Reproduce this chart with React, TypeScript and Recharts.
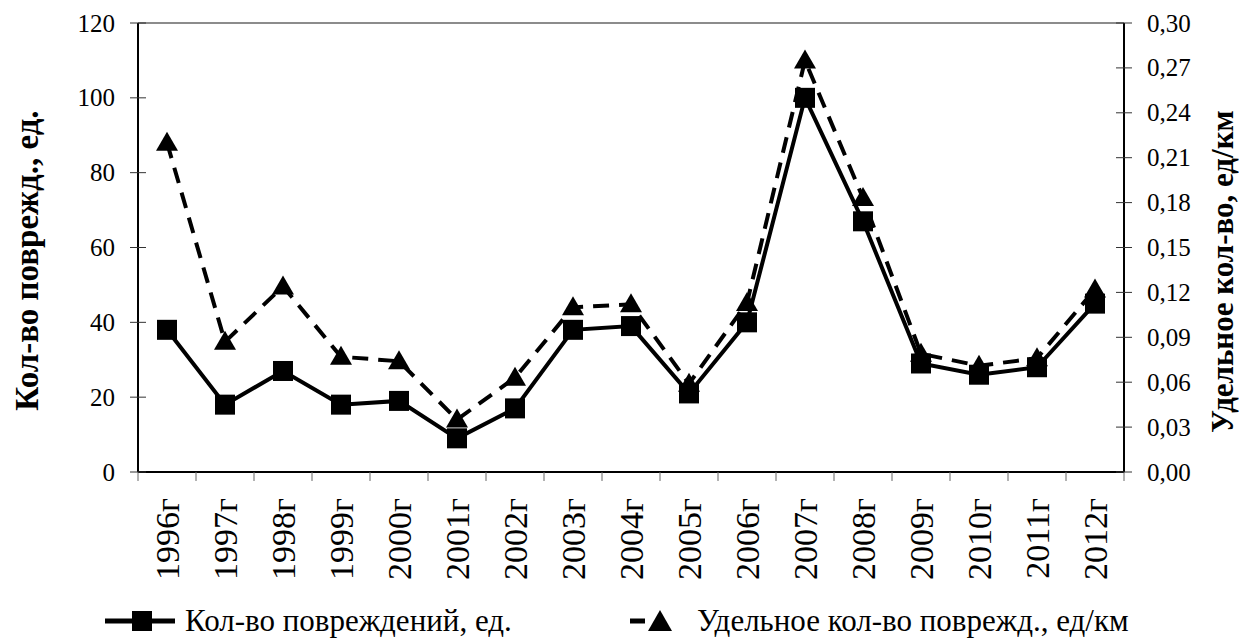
import React from 'react'
import { LineChart, Line, XAxis, YAxis, ReferenceLine, Legend } from 'recharts'

const years = ['1996г', '1997г', '1998г', '1999г', '2000г', '2001г', '2002г', '2003г', '2004г', '2005г', '2006г', '2007г', '2008г', '2009г', '2010г', '2011г', '2012г']
const damages = [38, 18, 27, 18, 19, 9, 17, 38, 39, 21, 40, 100, 67, 29, 26, 28, 45]
const specific = [0.22, 0.087, 0.124, 0.077, 0.074, 0.035, 0.063, 0.11, 0.112, 0.059, 0.113, 0.275, 0.183, 0.079, 0.071, 0.076, 0.122]
const leftTicks = [0, 20, 40, 60, 80, 100, 120]
const rightTicks = [0, 0.03, 0.06, 0.09, 0.12, 0.15, 0.18, 0.21, 0.24, 0.27, 0.3]

const data = years.map((year, i) => ({ year, x: i + 0.5, damages: damages[i], specific: specific[i] }))
// tick marks sit on the band edges, labels in the band centres
const xTicks: number[] = []
years.forEach((_, i) => { xTicks.push(i, i + 0.5) })
xTicks.push(years.length)

const FONT = "'Liberation Serif', 'Times New Roman', serif"
const TICK_GAP = 23 // tickSize + tickMargin on the y axes

const SquareDot = (props: any) => {
  const { cx, cy, index } = props
  if (cx == null || cy == null) return null
  return <rect key={`sq-${index}`} x={cx - 10} y={cy - 10} width={20} height={20} fill="#000" />
}

const TriangleDot = (props: any) => {
  const { cx, cy, index } = props
  if (cx == null || cy == null) return null
  return (
    <polygon
      key={`tr-${index}`}
      points={`${cx},${cy - 11} ${cx + 11},${cy + 8} ${cx - 11},${cy + 8}`}
      fill="#000"
    />
  )
}

const XTick = (props: any) => {
  const { x, y, payload } = props
  const v = payload.value
  if (Number.isInteger(v)) {
    return <line x1={x} x2={x} y1={y} y2={y + 9} stroke="#666" strokeWidth={1} />
  }
  const ty = y + 26
  return (
    <text
      x={x}
      y={ty}
      transform={`rotate(-90, ${x}, ${ty})`}
      textAnchor="end"
      dominantBaseline="central"
      fontFamily={FONT}
      style={{ fontFamily: FONT }}
      fontSize={34}
      fill="#000"
    >
      {years[Math.floor(v)]}
    </text>
  )
}

// y ticks cross the axis line like the original
const LeftTick = (props: any) => {
  const { x, y, payload } = props
  const ax = x + TICK_GAP
  return (
    <g>
      <line x1={ax - 8} x2={ax + 8} y1={y} y2={y} stroke="#333" strokeWidth={1} />
      <text x={x} y={y} textAnchor="end" dominantBaseline="central" fontFamily={FONT} style={{ fontFamily: FONT }} fontSize={25} fill="#000">
        {payload.value}
      </text>
    </g>
  )
}

const RightTick = (props: any) => {
  const { x, y, payload } = props
  const ax = x - TICK_GAP
  return (
    <g>
      <line x1={ax - 8} x2={ax + 8} y1={y} y2={y} stroke="#333" strokeWidth={1} />
      <text x={x} y={y} textAnchor="start" dominantBaseline="central" fontFamily={FONT} style={{ fontFamily: FONT }} fontSize={25} fill="#000">
        {Number(payload.value).toFixed(2).replace('.', ',')}
      </text>
    </g>
  )
}

const LeftTitle = (props: any) => {
  const vb = props.viewBox
  const x = 27
  const y = vb.y + vb.height / 2 + 13
  return (
    <text x={x} y={y} transform={`rotate(-90, ${x}, ${y})`} textAnchor="middle" dominantBaseline="central"
      fontFamily={FONT} style={{ fontFamily: FONT }} fontWeight="bold" fontSize={33} fill="#000">
      Кол-во поврежд., ед.
    </text>
  )
}

const RightTitle = (props: any) => {
  const vb = props.viewBox
  const x = 1222
  const y = vb.y + vb.height / 2 + 24
  return (
    <text x={x} y={y} transform={`rotate(-90, ${x}, ${y})`} textAnchor="middle" dominantBaseline="central"
      fontFamily={FONT} style={{ fontFamily: FONT }} fontWeight="bold" fontSize={31} fill="#000">
      Удельное кол-во, ед/км
    </text>
  )
}

const legendItems = [
  { label: 'Кол-во повреждений, ед.', left: 105, dashed: false },
  { label: 'Удельное кол-во поврежд., ед/км', left: 630, dashed: true },
]

const renderLegend = () => (
  <div style={{ position: 'relative', width: 1239, height: 40, fontFamily: FONT, fontSize: 31 }}>
    {legendItems.map(item => (
      <div key={item.label} style={{ position: 'absolute', left: item.left, top: 0, height: 40, display: 'flex', alignItems: 'center' }}>
        <svg width={item.dashed ? 46 : 72} height={40} style={{ flex: 'none' }}>
          <line x1={0} x2={item.dashed ? 45 : 70} y1={20} y2={20} stroke="#000" strokeWidth={5}
            strokeDasharray={item.dashed ? '15 30' : undefined} />
          {item.dashed
            ? <polygon points="30,9 42,30 18,30" fill="#000" />
            : <rect x={27} y={10} width={20} height={20} fill="#000" />}
        </svg>
        <span style={{ marginLeft: item.dashed ? 21 : 8, color: '#000', whiteSpace: 'nowrap', fontFamily: FONT, lineHeight: '40px' }}>
          {item.label}
        </span>
      </div>
    ))}
  </div>
)

export default function App() {
  return (
    <div style={{ position: 'absolute', left: 0, top: 0, width: 1239, height: 639, background: '#fff' }}>
      <LineChart width={1239} height={639} data={data} margin={{ top: 23, right: 0, left: 0, bottom: 0 }}>
        <XAxis
          type="number"
          dataKey="x"
          domain={[0, years.length]}
          ticks={xTicks}
          interval={0}
          tick={<XTick />}
          tickLine={false}
          tickSize={0}
          tickMargin={0}
          stroke="#000"
          strokeWidth={2}
          height={167}
        />
        <YAxis
          yAxisId="left"
          orientation="left"
          width={138}
          domain={[0, 120]}
          ticks={leftTicks}
          interval={0}
          stroke="#000"
          strokeWidth={2}
          tickLine={false}
          tickSize={8}
          tickMargin={15}
          tick={<LeftTick />}
          label={LeftTitle}
        />
        <YAxis
          yAxisId="right"
          orientation="right"
          width={115}
          domain={[0, 0.3]}
          ticks={rightTicks}
          interval={0}
          stroke="#000"
          strokeWidth={2}
          tickLine={false}
          tickSize={8}
          tickMargin={15}
          tick={<RightTick />}
          label={RightTitle}
        />
        <ReferenceLine yAxisId="left" y={120} stroke="#8c8c8c" strokeWidth={2} />
        <Line
          yAxisId="left"
          dataKey="damages"
          name="Кол-во повреждений, ед."
          type="linear"
          stroke="#000"
          strokeWidth={4}
          dot={SquareDot}
          activeDot={false}
          isAnimationActive={false}
        />
        <Line
          yAxisId="right"
          dataKey="specific"
          name="Удельное кол-во поврежд., ед/км"
          type="linear"
          stroke="#000"
          strokeWidth={4}
          strokeDasharray="16 10"
          dot={TriangleDot}
          activeDot={false}
          isAnimationActive={false}
        />
        <Legend
          layout="horizontal"
          verticalAlign="middle"
          align="center"
          wrapperStyle={{ top: 601, left: 0, width: 1239 }}
          content={renderLegend}
        />
      </LineChart>
    </div>
  )
}
